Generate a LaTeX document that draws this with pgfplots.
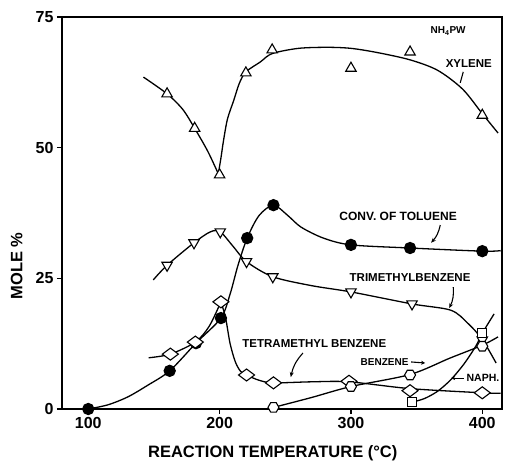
\documentclass[border=0pt]{standalone}
\usepackage{pgfplots}
\pgfplotsset{compat=1.18}
\usepackage{fontspec}
\setmainfont{Liberation Sans}
\usetikzlibrary{calc,arrows.meta}
\pgfdeclareplotmark{hexagon}{%
 \pgfpathmoveto{\pgfqpointpolar{0}{\pgfplotmarksize}}%
 \pgfpathlineto{\pgfqpointpolar{60}{\pgfplotmarksize}}%
 \pgfpathlineto{\pgfqpointpolar{120}{\pgfplotmarksize}}%
 \pgfpathlineto{\pgfqpointpolar{180}{\pgfplotmarksize}}%
 \pgfpathlineto{\pgfqpointpolar{240}{\pgfplotmarksize}}%
 \pgfpathlineto{\pgfqpointpolar{300}{\pgfplotmarksize}}%
 \pgfpathclose\pgfusepathqfillstroke}
\begin{document}
\begin{tikzpicture}
\begin{axis}[
 width=440pt, height=392pt, scale only axis,
 xmin=80, xmax=415, ymin=0, ymax=75,
 xtick={100,200,300,400}, ytick={0,25,50,75},
 xtick pos=bottom, ytick pos=left,
 tick align=outside, major tick length=5pt,
 tick style={line width=1.2pt, black},
 axis line style={line width=1.6pt},
 /pgf/number format/assume math mode=true,
 tick label style={font=\bfseries\fontsize{16}{16}\selectfont},
 xlabel={REACTION TEMPERATURE (\textdegree C)},
 ylabel={MOLE \%},
 label style={font=\bfseries\fontsize{16.5}{17}\selectfont},
 xlabel style={at={(axis description cs:0.479,-0.112)}, anchor=center},
 ylabel style={at={(axis description cs:-0.103,0.365)}, anchor=center},
 clip=false,
 every axis plot/.append style={line width=1.3pt, black},
]
% ---------- curves ----------
\addplot[smooth, tension=0.5] coordinates {(142,63.5)(160,60.3)(172,57.3)(181,53.7)(191,49.3)(199,45)};
\addplot[smooth, tension=0.5] coordinates {(199,45)(201,48)(203,51.4)(206,55.5)(210.7,59)(215,62.3)(220,64.5)(231,66.4)(240,68.0)(260,69.0)(282,69.2)(300,69.0)(320,68.2)(345,66.8)(366,64.8)(385,61.2)(400,56.5)(412,52.8)};
\addplot[smooth, tension=0.5] coordinates {(100,0)(115,0.8)(130,2.3)(145,4.5)(162,7.3)(182,12.6)(201,17.4)(208,22)(214,27.5)(221,32.7)(230,37)(241,39)(252,37)(262,34.8)(279,32.7)(300,31.4)(345,30.8)(400,30.2)(414,30.3)};
\addplot[smooth, tension=0.5] coordinates {(149.5,24.7)(160,27.5)(180.5,31.8)(193,33.9)(200.5,33.9)(210,31.2)(220.5,28.2)(240.5,25.3)(270,23.6)(300,22.4)(346.5,20.1)(376,18.9)(389,16.4)(400,13.3)(410.5,8.8)};
\addplot[smooth, tension=0.5] coordinates {(146,9.8)(162.5,10.5)(181.5,12.8)(192,15.8)(201,20.5)};
\addplot[smooth, tension=0.5] coordinates {(201,20.5)(204.5,17.5)(208,12.5)(212,9)(216,7.2)(220.5,6.5)(230,5.5)(241,5.0)(270,5.2)(298.5,5.2)(345,3.9)(400,3.1)(414,3.0)};
\addplot[smooth, tension=0.5] coordinates {(241,0.3)(270,2.2)(300,4.3)(345,6.6)(375,9.7)(400,12.2)(412,13.8)};
\addplot[smooth, tension=0.5] coordinates {(346.5,1.3)(356,2.0)(366,3.4)(376,5.6)(386,8.6)(395,12)(400,14.5)(409,18.2)};
% ---------- marks ----------
\addplot[only marks, mark=triangle*, mark size=6pt, mark options={fill=white, line width=1.1pt}] coordinates {(160,60.3)(181,53.7)(200,44.8)(220,64.3)(240,68.7)(300,65.2)(345,68.3)(400,56.2)};
\addplot[only marks, mark=*, mark size=5.5pt, mark options={fill=black}] coordinates {(100,0)(162,7.3)(182,12.6)(201,17.4)(221,32.7)(241,39)(300,31.4)(345,30.8)(400,30.2)};
\addplot[only marks, mark=triangle*, mark size=6pt, mark options={fill=white, rotate=180, line width=1.1pt}] coordinates {(160,27.5)(180.5,31.8)(200.5,33.9)(220.5,28.2)(240.5,25.3)(300,22.4)(346.5,20.1)(400,13.2)};
\addplot[only marks, mark=diamond*, mark size=8pt, mark options={fill=white, rotate=90, line width=1.1pt}] coordinates {(162.5,10.5)(181.5,12.8)(201,20.5)(220.5,6.5)(241,5.0)(298.5,5.3)(345,3.5)(400,3.1)};
\addplot[only marks, mark=hexagon, mark size=5.5pt, mark options={fill=white, line width=1.1pt}] coordinates {(241,0.3)(300,4.3)(345,6.5)(400,12.0)};
\addplot[only marks, mark=square*, mark size=4.5pt, mark options={fill=white, line width=1.1pt}] coordinates {(346.5,1.3)(400,14.5)};
% ---------- annotations ----------
\begin{scope}[font=\bfseries]
\node at (axis cs:374,72.3) {\fontsize{10}{10}\selectfont NH$_{\mathbf 4}$PW};
\node at (axis cs:389.7,66.0) {\fontsize{11.5}{12}\selectfont XYLENE};
\draw[line width=1.1pt] (axis cs:385.5,64.5) -- (axis cs:383.2,62.4);
\node at (axis cs:335.9,36.9) {\fontsize{12}{12}\selectfont CONV. OF TOLUENE};
\draw[line width=1.1pt, -{Stealth[length=5pt,width=4pt]}] (axis cs:368,35.2) to[bend left=15] (axis cs:361,31.8);
\node at (axis cs:345,25.2) {\fontsize{11.5}{12}\selectfont TRIMETHYLBENZENE};
\draw[line width=1.1pt, -{Stealth[length=5pt,width=4pt]}] (axis cs:377.9,23.3) to[bend left=15] (axis cs:374.8,19.3);
\node at (axis cs:272.1,12.6) {\fontsize{11.5}{12}\selectfont TETRAMETHYL BENZENE};
\draw[line width=1.1pt, -{Stealth[length=5pt,width=4pt]}] (axis cs:263.4,10.7) to[bend right=15] (axis cs:254.2,6.1);
\node at (axis cs:325.6,9.0) {\fontsize{10}{10}\selectfont BENZENE};
\draw[line width=1.1pt, -{Stealth[length=4pt,width=4pt]}] (axis cs:345.8,9.0) -- (axis cs:356.5,8.8);
\node at (axis cs:400.5,5.9) {\fontsize{10.5}{11}\selectfont NAPH.};
\draw[line width=1.1pt, -{Stealth[length=4pt,width=4pt]}] (axis cs:386,5.9) -- (axis cs:376.3,5.9);
\end{scope}
\end{axis}
\pgfresetboundingbox
\path ($(current axis.south west)+(-62pt,-53pt)$) rectangle ($(current axis.north east)+(4pt,17pt)$);
\end{tikzpicture}
\end{document}
